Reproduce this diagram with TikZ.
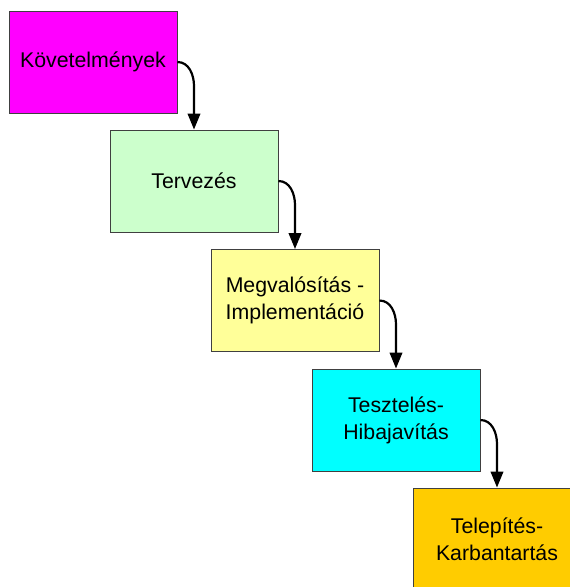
\documentclass[tikz,border=0pt]{standalone}
\usepackage{fontspec}
\setmainfont{Liberation Sans}
\usetikzlibrary{arrows.meta,calc}
\definecolor{reqcol}{HTML}{FF00FF}
\definecolor{descol}{HTML}{CCFFCC}
\definecolor{impcol}{HTML}{FFFF99}
\definecolor{tstcol}{HTML}{00FFFF}
\definecolor{depcol}{HTML}{FFCC00}
\definecolor{edgecol}{HTML}{404040}
\begin{document}
\begin{tikzpicture}[x=1pt,y=-1pt,
  phase/.style={draw=edgecol,line width=0.9pt,minimum width=168pt,minimum height=102pt,
    inner sep=0pt,align=center,font=\fontsize{21.3}{27}\selectfont},
  flow/.style={line width=2.2pt,-{Triangle[length=16pt,width=12.5pt]}}]
\useasboundingbox (0,0) rectangle (570,587);
\clip (0,0) rectangle (570,587);
\node[phase,fill=reqcol] (k) at (93,62) {Követelmények};
\node[phase,fill=descol] (t) at (194,181) {Tervezés};
\node[phase,fill=impcol] (m) at (295,300.5) {Megvalósítás -\\Implementáció};
\node[phase,fill=tstcol] (s) at (396,420) {Tesztelés-\\Hibajavítás};
\node[phase,fill=depcol] (d) at (497,539) {Telepítés-\\Karbantartás};
\foreach \a/\b in {k/t,t/m,m/s,s/d}{
  \draw[flow] (\a.east) to[out=0,in=90] ($(\b.north |- \a.east)+(0,24)$) -- (\b.north);
}
\end{tikzpicture}
\end{document}
